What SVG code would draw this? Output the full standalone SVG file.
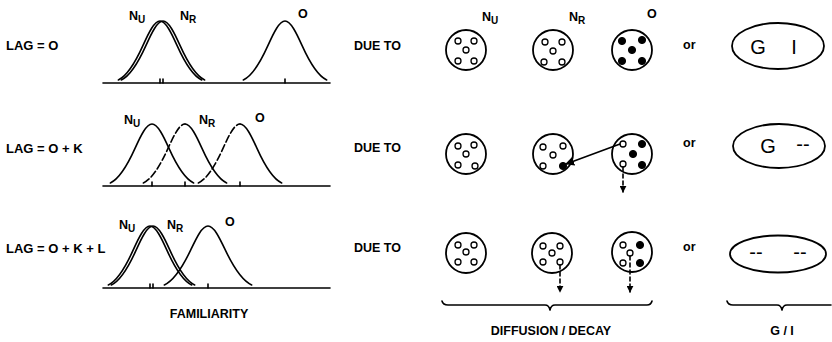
<svg xmlns="http://www.w3.org/2000/svg" width="832" height="342" viewBox="0 0 832 342">
<style>
.bg{fill:#fff}
.ln{fill:none;stroke:#000;stroke-width:1.6;stroke-linecap:round;stroke-linejoin:round}
.dash{stroke-dasharray:7 3}
.cir{fill:#fff;stroke:#000;stroke-width:1.8}
.od{fill:#fff;stroke:#000;stroke-width:1.3}
.fd{fill:#000;stroke:#000;stroke-width:1}
.t{font-family:"Liberation Sans",Arial,sans-serif;font-weight:bold;fill:#000}
.lab{font-size:13px}
.sm{font-size:12.5px}
.sub{font-size:10px}
.big{font-family:"Liberation Sans",Arial,sans-serif;font-size:20px;fill:#000}
.mid{text-anchor:middle}
</style>
<defs>
<marker id="ah" viewBox="0 0 10 10" refX="9" refY="5" markerWidth="7" markerHeight="7" orient="auto" markerUnits="userSpaceOnUse">
<path d="M0,0 L10,5 L0,10 z" fill="#000"/>
</marker>
<marker id="ah2" viewBox="0 0 10 10" refX="9" refY="5" markerWidth="9" markerHeight="9" orient="auto" markerUnits="userSpaceOnUse">
<path d="M0,0 L10,5 L0,10 z" fill="#000"/>
</marker>
</defs>
<rect class="bg" x="0" y="0" width="832" height="342"/>

<!-- Row labels -->
<g id="row-labels">
<text class="t lab" x="6" y="50">LAG = O</text>
<text class="t lab" x="6" y="153">LAG = O + K</text>
<text class="t lab" x="6" y="253">LAG = O + K + L</text>
</g>

<!-- Familiarity plots -->
<g id="plot1">
<line class="ln" x1="103" y1="83" x2="330" y2="83"/>
<path class="ln" d="M118.35,79.9 C126.6,76.2 134.8,63.6 143,45.4 C148.7,32.8 154.3,21 160,21 C165.7,21 171.3,32.8 177,45.4 C185.2,63.6 193.4,76.2 201.65,79.9"/>
<path class="ln" d="M121.35,79.9 C129.6,76.2 137.8,63.6 146,45.4 C151.7,32.8 157.3,21 163,21 C168.7,21 174.3,32.8 180,45.4 C188.2,63.6 196.4,76.2 204.65,79.9"/>
<path class="ln" d="M243.35,79.9 C251.6,76.2 259.8,63.6 268,45.4 C273.7,32.8 279.3,21 285,21 C290.7,21 296.3,32.8 302,45.4 C310.2,63.6 318.4,76.2 326.65,79.9"/>
<path class="ln" d="M160,79 V83 M163,79 V83 M285,79 V83"/>
<text class="t sm" x="129" y="20">N<tspan class="sub" dy="3">U</tspan></text>
<text class="t sm" x="180" y="20">N<tspan class="sub" dy="3">R</tspan></text>
<text class="t sm" x="298" y="18">O</text>
</g>

<g id="plot2">
<line class="ln" x1="103" y1="186" x2="330" y2="186"/>
<path class="ln" d="M110.35,182.9 C118.6,179.2 126.8,166.6 135,148.4 C140.7,135.8 146.3,124 152,124 C157.7,124 163.3,135.8 169,148.4 C177.2,166.6 185.4,179.2 193.65,182.9"/>
<path class="ln dash" d="M143.35,182.9 C151.6,179.2 159.8,166.6 168,148.4 C173.7,135.8 179.3,124 185,124"/>
<path class="ln" d="M185,124 C190.7,124 196.3,135.8 202,148.4 C210.2,166.6 218.4,179.2 226.65,182.9"/>
<path class="ln dash" d="M198.35,182.9 C206.6,179.2 214.8,166.6 223,148.4 C228.7,135.8 234.3,124 240,124"/>
<path class="ln" d="M240,124 C245.7,124 251.3,135.8 257,148.4 C265.2,166.6 273.4,179.2 281.65,182.9"/>
<path class="ln" d="M152,182 V186 M185,182 V186 M240,182 V186"/>
<text class="t sm" x="124" y="124">N<tspan class="sub" dy="3">U</tspan></text>
<text class="t sm" x="199" y="124">N<tspan class="sub" dy="3">R</tspan></text>
<text class="t sm" x="255" y="122">O</text>
</g>

<g id="plot3">
<line class="ln" x1="103" y1="288" x2="330" y2="288"/>
<path class="ln" d="M108.35,284.9 C116.6,281.2 124.8,268.6 133,250.4 C138.7,237.8 144.3,226 150,226 C155.7,226 161.3,237.8 167,250.4 C175.2,268.6 183.4,281.2 191.65,284.9"/>
<path class="ln" d="M111.35,284.9 C119.6,281.2 127.8,268.6 136,250.4 C141.7,237.8 147.3,226 153,226 C158.7,226 164.3,237.8 170,250.4 C178.2,268.6 186.4,281.2 194.65,284.9"/>
<path class="ln" d="M164.35,284.9 C172.6,281.2 181.8,268.6 190.5,250.4 C196.5,237.8 202,226 208,226 C214,226 219.5,237.8 225.5,250.4 C234.2,268.6 243.4,281.2 251.65,284.9"/>
<path class="ln" d="M150,284 V288 M153,284 V288 M208,284 V288"/>
<text class="t sm" x="119" y="229">N<tspan class="sub" dy="3">U</tspan></text>
<text class="t sm" x="167" y="229">N<tspan class="sub" dy="3">R</tspan></text>
<text class="t sm" x="225" y="226">O</text>
<text class="t sm mid" x="209" y="318">FAMILIARITY</text>
</g>

<!-- DUE TO labels -->
<g id="due-to">
<text class="t sm" x="354" y="50">DUE TO</text>
<text class="t sm" x="354" y="152">DUE TO</text>
<text class="t sm" x="354" y="252">DUE TO</text>
</g>

<!-- Row 1 circles -->
<g id="r1-nu">
<text class="t sm" x="482" y="21">N<tspan class="sub" dy="3">U</tspan></text>
<circle class="cir" cx="466" cy="50" r="20"/>
<circle class="od" cx="458" cy="41" r="3"/><circle class="od" cx="474" cy="41" r="3"/>
<circle class="od" cx="466" cy="50" r="3"/>
<circle class="od" cx="458" cy="61" r="3"/><circle class="od" cx="474" cy="61" r="3"/>
</g>
<g id="r1-nr">
<text class="t sm" x="569" y="21">N<tspan class="sub" dy="3">R</tspan></text>
<circle class="cir" cx="553" cy="50" r="20"/>
<circle class="od" cx="545" cy="42" r="3"/><circle class="od" cx="562" cy="42" r="3"/>
<circle class="od" cx="553" cy="51" r="3"/>
<circle class="od" cx="544" cy="62" r="3"/><circle class="od" cx="562" cy="62" r="3"/>
</g>
<g id="r1-o">
<text class="t sm" x="647" y="18">O</text>
<circle class="cir" cx="632" cy="50" r="20"/>
<circle class="fd" cx="622" cy="41" r="3.6"/><circle class="fd" cx="642" cy="40" r="3.6"/>
<circle class="fd" cx="632" cy="50" r="3.6"/>
<circle class="fd" cx="622" cy="61" r="3.6"/><circle class="fd" cx="642" cy="61" r="3.6"/>
</g>

<!-- Row 2 circles -->
<g id="r2-nu">
<circle class="cir" cx="466" cy="154" r="20"/>
<circle class="od" cx="458" cy="146" r="3"/><circle class="od" cx="474" cy="145" r="3"/>
<circle class="od" cx="466" cy="154" r="3"/>
<circle class="od" cx="458" cy="165" r="3"/><circle class="od" cx="475" cy="166" r="3"/>
</g>
<g id="r2-nr">
<circle class="cir" cx="553" cy="154" r="20"/>
<circle class="od" cx="543" cy="147" r="3"/><circle class="od" cx="563" cy="146" r="3"/>
<circle class="od" cx="553" cy="155" r="3"/>
<circle class="od" cx="543" cy="166" r="3"/><circle class="fd" cx="563" cy="166" r="3.6"/>
</g>
<g id="r2-o">
<circle class="cir" cx="632" cy="154" r="20"/>
<circle class="od" cx="623" cy="144" r="3"/><circle class="fd" cx="642" cy="144" r="3.6"/>
<circle class="fd" cx="633" cy="154" r="3.6"/>
<circle class="od" cx="623" cy="164" r="3"/><circle class="fd" cx="642" cy="165" r="3.6"/>
</g>

<!-- Row 3 circles -->
<g id="r3-nu">
<circle class="cir" cx="466" cy="253" r="20"/>
<circle class="od" cx="458" cy="245" r="3"/><circle class="od" cx="474" cy="245" r="3"/>
<circle class="od" cx="466" cy="252" r="3"/>
<circle class="od" cx="458" cy="262" r="3"/><circle class="od" cx="474" cy="262" r="3"/>
</g>
<g id="r3-nr">
<circle class="cir" cx="552" cy="253" r="20"/>
<circle class="od" cx="543" cy="246" r="3"/><circle class="od" cx="560" cy="246" r="3"/>
<circle class="od" cx="552" cy="253" r="3"/>
<circle class="od" cx="543" cy="262" r="3"/><circle class="od" cx="560" cy="262" r="3"/>
</g>
<g id="r3-o">
<circle class="cir" cx="632" cy="252" r="20"/>
<circle class="od" cx="623" cy="245" r="3"/><circle class="fd" cx="640" cy="245" r="3.6"/>
<circle class="od" cx="630" cy="253" r="3"/>
<circle class="od" cx="623" cy="263" r="3"/><circle class="fd" cx="640" cy="263" r="3.6"/>
</g>

<!-- "or" labels -->
<g id="or-labels">
<text class="t sm" x="683" y="49">or</text>
<text class="t sm" x="683" y="147">or</text>
<text class="t sm" x="683" y="251">or</text>
</g>

<!-- G/I ellipses -->
<g id="gi1">
<ellipse class="cir" cx="778" cy="46" rx="46" ry="23"/>
<text class="big mid" x="758" y="54">G</text>
<text class="big mid" x="794" y="54">I</text>
</g>
<g id="gi2">
<ellipse class="cir" cx="779" cy="146" rx="46" ry="22"/>
<text class="big mid" x="768" y="153">G</text>
<text class="big mid" x="803" y="151">--</text>
</g>
<g id="gi3">
<ellipse class="cir" cx="778" cy="254" rx="48" ry="18.5"/>
<text class="big mid" x="756" y="259">--</text>
<text class="big mid" x="800" y="259">--</text>
</g>

<!-- Connectors -->
<g id="connectors">
<line class="ln" x1="620" y1="144" x2="566" y2="164" marker-end="url(#ah2)"/>
<line class="ln" x1="623" y1="167" x2="623" y2="192" stroke-dasharray="4 3" marker-end="url(#ah)"/>
<line class="ln" x1="560" y1="265" x2="560" y2="292" stroke-dasharray="4 3" marker-end="url(#ah)"/>
<line class="ln" x1="630" y1="256" x2="630" y2="292" stroke-dasharray="4 3" marker-end="url(#ah)"/>
</g>

<!-- Braces -->
<g id="brace-diffusion">
<path class="ln" d="M442,301 Q443,305 448,305 L545,305 Q549,305 550,310 Q551,305 555,305 L647,305 Q651,305 652,301"/>
<text class="t sm mid" x="551" y="335">DIFFUSION / DECAY</text>
</g>
<g id="brace-gi">
<path class="ln" d="M727,301 Q728,305 733,305 L777,305 Q781,305 782,310 Q783,305 787,305 L831,305"/>
<text class="t sm mid" x="782" y="335">G / I</text>
</g>
</svg>
